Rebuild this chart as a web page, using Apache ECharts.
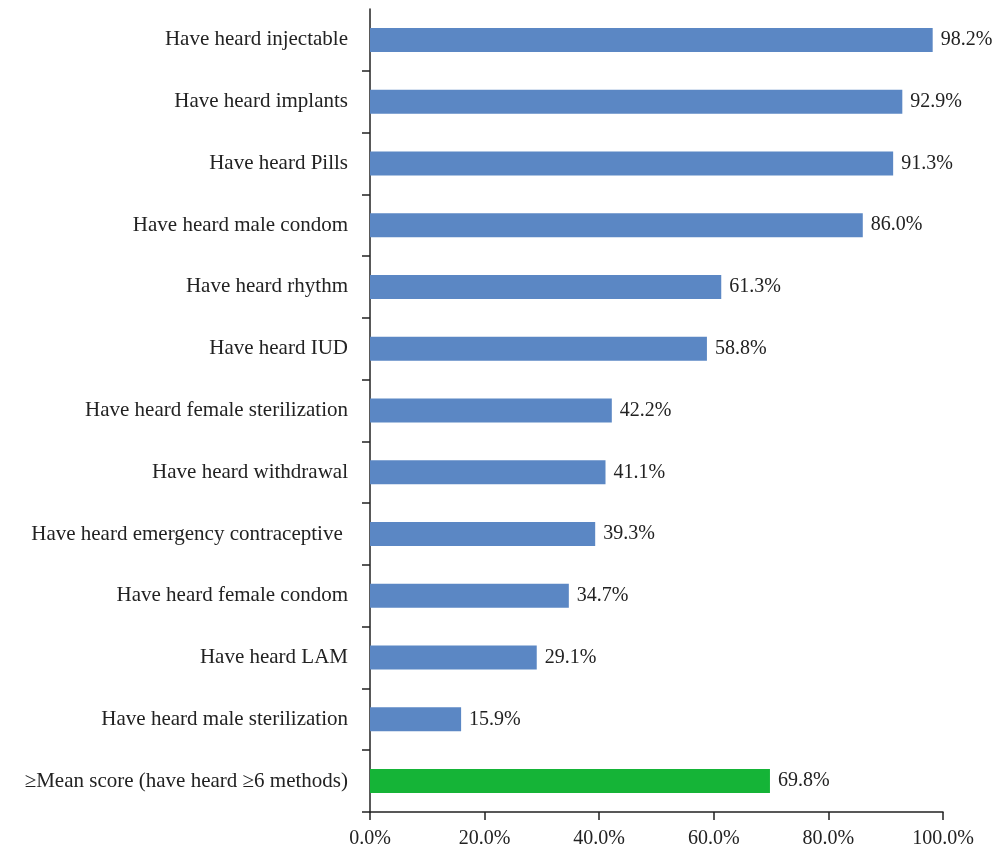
<!DOCTYPE html>
<html>
<head>
<meta charset="utf-8">
<script src="https://cdn.jsdelivr.net/npm/echarts@6/dist/echarts.min.js"></script>
<style>html,body{margin:0;padding:0;background:#fff;}#c{width:993px;height:850px;}</style>
</head>
<body>
<div id="c"></div>
<script>
const categories = [
  "Have heard injectable",
  "Have heard implants",
  "Have heard Pills",
  "Have heard male condom",
  "Have heard rhythm",
  "Have heard IUD",
  "Have heard female sterilization",
  "Have heard withdrawal",
  "Have heard emergency contraceptive ",
  "Have heard female condom",
  "Have heard LAM",
  "Have heard male sterilization",
  "\u2265Mean score (have heard \u22656 methods)"
];
const values = [98.2, 92.9, 91.3, 86.0, 61.3, 58.8, 42.2, 41.1, 39.3, 34.7, 29.1, 15.9, 69.8];
const highlightIndex = 12;
const blue = "#5b87c4";
const green = "#15b437";
const font = "Liberation Serif";

const chart = echarts.init(document.getElementById('c'));
chart.setOption({
  animation: false,
  grid: { left: 370, right: 50, top: 9, bottom: 38, containLabel: false },
  xAxis: {
    type: 'value', min: 0, max: 100, interval: 20,
    splitLine: { show: false },
    axisLine: { show: true, lineStyle: { color: '#222', width: 1.5 } },
    axisTick: { show: true, length: 8, lineStyle: { color: '#222', width: 1.5 } },
    axisLabel: { formatter: v => v.toFixed(1) + '%', fontFamily: font, fontSize: 20, color: '#222', margin: 17 }
  },
  yAxis: {
    type: 'category', data: categories, inverse: true,
    axisLine: { show: true, lineStyle: { color: '#222', width: 1.5 } },
    axisTick: { show: true, length: 8, interval: (i) => i !== 0, lineStyle: { color: '#222', width: 1.5 } },
    axisLabel: { fontFamily: font, fontSize: 21, color: '#222', margin: 22, padding: [3, 0, 0, 0] }
  },
  series: [{
    type: 'bar',
    data: values.map((v, i) => ({ value: v, itemStyle: { color: i === highlightIndex ? green : blue } })),
    barWidth: 24,
    label: { show: true, position: 'right', distance: 8, padding: [3, 0, 0, 0], formatter: p => p.value.toFixed(1) + '%', fontFamily: font, fontSize: 20, color: '#222' }
  }]
});
</script>
</body>
</html>
